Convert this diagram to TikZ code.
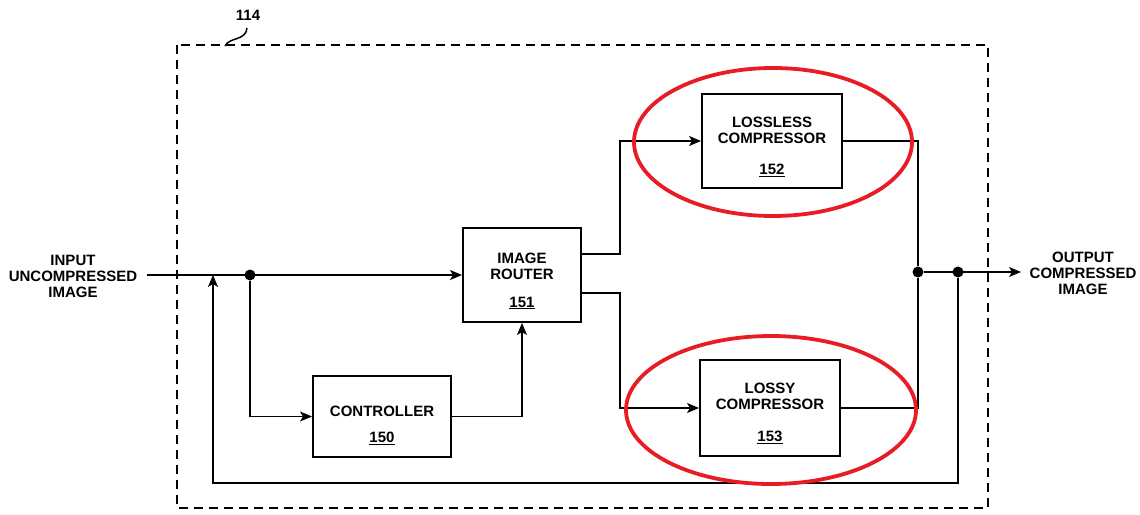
\documentclass[tikz,border=0pt]{standalone}
\usepackage{fontspec}
\setmainfont{Liberation Sans}
\usetikzlibrary{arrows.meta}
\definecolor{ringred}{RGB}{232,28,36}
\begin{document}
\begin{tikzpicture}[x=1pt,y=-1pt,
  box/.style={draw,line width=2pt,minimum width=#1,inner sep=0pt},
  lbl/.style={font=\fontsize{15}{16}\selectfont\bfseries,align=center,inner sep=0pt},
  conn/.style={line width=1.3pt},
  arr/.style={conn,-{Stealth[length=12pt,width=10pt,inset=3pt]}},
  dot/.style={circle,fill,inner sep=0pt,minimum size=11pt},
  ring/.style={draw=ringred,line width=3.8pt}]
\useasboundingbox (0,0) rectangle (1140,514);
% outer dashed boundary
\draw[line width=1.8pt,dash pattern=on 9pt off 6pt] (177,45) rectangle (988,508);
\node[lbl] (n114) at (248,15) {114};
\draw[line width=1.5pt] (225,46) .. controls (229,37) and (246,41) .. (247,28);
% boxes
\node[box=118pt,minimum height=94pt] (router) at (522,275) {};
\node[lbl] (routerT) at (522,266) {IMAGE\\ROUTER};
\node[lbl] (routerN) at (522,303) {\underline{151}};
\node[box=138pt,minimum height=81pt] (ctrl) at (382,416.5) {};
\node[lbl] (ctrlT) at (382,411) {CONTROLLER};
\node[lbl] (ctrlN) at (382,438) {\underline{150}};
\node[box=140pt,minimum height=94pt] (lossless) at (772,141) {};
\node[lbl] (losslessT) at (772,130) {LOSSLESS\\COMPRESSOR};
\node[lbl] (losslessN) at (772,170) {\underline{152}};
\node[box=140pt,minimum height=96pt] (lossy) at (770,408) {};
\node[lbl] (lossyT) at (770,396) {LOSSY\\COMPRESSOR};
\node[lbl] (lossyN) at (770,437) {\underline{153}};
% external labels
\node[lbl] (inT) at (73,276) {INPUT\\UNCOMPRESSED\\IMAGE};
\node[lbl] (outT) at (1083,273) {OUTPUT\\COMPRESSED\\IMAGE};
% coordinates
\coordinate (inStart) at (147,275);
\node[dot] (j1) at (250,275) {};
\node[dot] (j2) at (918,272) {};
\node[dot] (j3) at (958,272) {};
\coordinate (outEnd) at (1021,272);
\coordinate (fbIn) at (213,275);
% input path
\draw[arr] (inStart) -- (router.west |- inStart);
\draw[arr] (j1) |- (ctrl.west);
\draw[arr] (ctrl.east) -| (router.south);
% router outputs
\draw[arr] (router.east |- 0,254) -| (620,200) |- (lossless.west);
\draw[arr] (router.east |- 0,293) -| (620,350) |- (lossy.west);
% compressors to output
\draw[conn] (lossless.east) -| (j2);
\draw[conn] (lossy.east) -| (j2);
\draw[arr] (j2) -- (outEnd);
% feedback
\draw[arr] (j3) -- (958,483) -- (213,483) -- (fbIn);
% red highlights
\draw[ring] (773,142) ellipse (139pt and 74pt);
\draw[ring] (771,410) ellipse (145pt and 74pt);
\end{tikzpicture}
\end{document}
